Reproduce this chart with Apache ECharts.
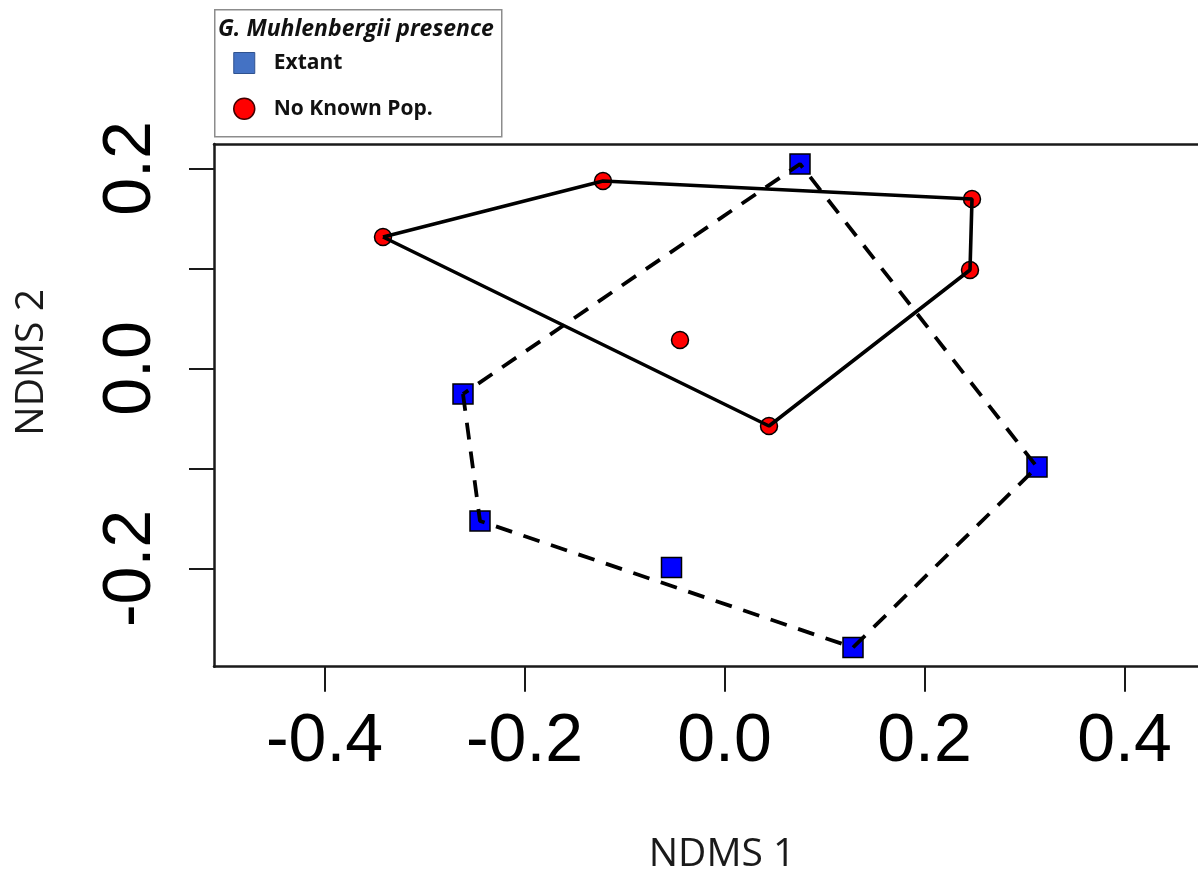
<!DOCTYPE html>
<html>
<head>
<meta charset="utf-8">
<script src="https://cdn.jsdelivr.net/npm/echarts@6/dist/echarts.min.js"></script>
<style>
html,body{margin:0;padding:0;background:#fff;}
#chart{width:1198px;height:876px;}
</style>
</head>
<body>
<div id="chart"></div>
<script>
// NMDS site scores
const extantX = [0.0755, -0.2615, -0.2445, -0.053, 0.1285, 0.3125];
const extantY = [0.2045, -0.0255, -0.1525, -0.199, -0.279, -0.0985];
const noneX = [-0.3415, -0.1215, 0.2475, 0.2455, -0.0445, 0.0445];
const noneY = [0.1315, 0.1875, 0.1695, 0.0985, 0.0285, -0.0575];
const xTicks = [-0.4, -0.2, 0.0, 0.2, 0.4];
const yTicks = [-0.2, -0.1, 0.0, 0.1, 0.2];
const yLabels = [-0.2, 0.0, 0.2];
const seriesNames = ['Extant', 'No Known Pop.'];
const legendTitle = 'G. Muhlenbergii presence';

function pairs(xs, ys) { return xs.map((x, i) => [x, ys[i]]); }
// convex hull (monotone chain), closed loop
function hull(pts) {
  const p = pts.slice().sort((a, b) => a[0] - b[0] || a[1] - b[1]);
  const cross = (o, a, b) => (a[0]-o[0])*(b[1]-o[1]) - (a[1]-o[1])*(b[0]-o[0]);
  const lower = [], upper = [];
  for (const q of p) { while (lower.length >= 2 && cross(lower[lower.length-2], lower[lower.length-1], q) <= 0) lower.pop(); lower.push(q); }
  for (let i = p.length - 1; i >= 0; i--) { const q = p[i]; while (upper.length >= 2 && cross(upper[upper.length-2], upper[upper.length-1], q) <= 0) upper.pop(); upper.push(q); }
  upper.pop(); lower.pop();
  const h = lower.concat(upper);
  h.push(h[0]);
  return h;
}

const extantPts = pairs(extantX, extantY);
const nonePts = pairs(noneX, noneY);

const chart = echarts.init(document.getElementById('chart'), null, {renderer: 'canvas'});
const axisFont = {fontFamily: 'Liberation Sans', fontSize: 68, color: '#000'};
const XMIN = -0.5105, XMAX = 0.4735, YMIN = -0.2982, YMAX = 0.2245;

chart.setOption({
  backgroundColor: '#fff',
  animation: false,
  grid: {left: 214, top: 144, right: 0, bottom: 209.3, containLabel: false, outerBoundsMode: 'none'},
  graphic: [
    {type: 'rect', left: 214, top: 9, shape: {width: 287, height: 127}, style: {fill: '#fff', stroke: '#8c8c8c', lineWidth: 1.5}, z: 0},
    {type: 'text', left: 218, top: 18, style: {text: legendTitle, font: 'italic bold 23px "Open Sans"', fill: '#111'}, z: 2}
  ],
  legend: {
    orient: 'vertical', left: 228, top: 47, itemWidth: 21, itemHeight: 21, itemGap: 23.5,
    textStyle: {fontFamily: 'Open Sans', fontWeight: 'bold', fontSize: 21, color: '#111', padding: [0, 0, 3, 14]},
    data: [
      {name: seriesNames[0], icon: 'rect', itemStyle: {color: '#4472C4', borderColor: '#2F528F', borderWidth: 1}},
      {name: seriesNames[1], icon: 'circle', itemStyle: {color: '#FF0000', borderColor: '#400000', borderWidth: 1.5}}
    ],
    selectedMode: false
  },
  xAxis: [
    {
      type: 'value', min: XMIN, max: XMAX, position: 'bottom',
      name: 'NDMS 1', nameLocation: 'middle', nameGap: 169,
      nameTextStyle: {fontFamily: 'Open Sans', fontSize: 39, color: '#1a1a1a', padding: [0, 0, 0, 32]},
      axisLine: {show: true, onZero: false, lineStyle: {color: '#1a1a1a', width: 2.5}},
      axisTick: {show: true, length: 25, customValues: xTicks, lineStyle: {color: '#1a1a1a', width: 2}},
      axisLabel: {customValues: xTicks, margin: 42, formatter: v => v.toFixed(1), ...axisFont},
      splitLine: {show: false}
    },
    {
      type: 'value', min: XMIN, max: XMAX, position: 'top',
      axisLine: {show: true, onZero: false, lineStyle: {color: '#1a1a1a', width: 2.5}},
      axisTick: {show: false}, axisLabel: {show: false}, splitLine: {show: false}
    }
  ],
  yAxis: {
    type: 'value', min: YMIN, max: YMAX,
    name: 'NDMS 2', nameLocation: 'middle', nameGap: 163,
    nameTextStyle: {fontFamily: 'Open Sans', fontSize: 39, color: '#1a1a1a', padding: [0, 0, 0, 86]},
    axisLine: {show: true, onZero: false, lineStyle: {color: '#1a1a1a', width: 2.5}},
    axisTick: {show: true, length: 25, customValues: yTicks, lineStyle: {color: '#1a1a1a', width: 2}},
    axisLabel: {customValues: yLabels, rotate: 90, margin: 49, formatter: v => v.toFixed(1), ...axisFont},
    splitLine: {show: false}
  },
  series: [
    {
      name: seriesNames[0], type: 'scatter', symbol: 'rect', symbolSize: 20,
      itemStyle: {color: '#0000FF', borderColor: '#000', borderWidth: 1.5, opacity: 1},
      data: extantPts, z: 2
    },
    {
      name: seriesNames[1], type: 'scatter', symbol: 'circle', symbolSize: 17,
      itemStyle: {color: '#FF0000', borderColor: '#000', borderWidth: 1.5, opacity: 1},
      data: nonePts, z: 2
    },
    {
      name: 'Extant hull', type: 'line', data: hull(extantPts), showSymbol: false, symbol: 'none',
      lineStyle: {color: '#000', width: 3.8, type: [17, 12]}, z: 3, silent: true
    },
    {
      name: 'No Known Pop. hull', type: 'line', data: hull(nonePts), showSymbol: false, symbol: 'none',
      lineStyle: {color: '#000', width: 3.6, type: 'solid'}, z: 3, silent: true
    }
  ]
});
</script>
</body>
</html>
